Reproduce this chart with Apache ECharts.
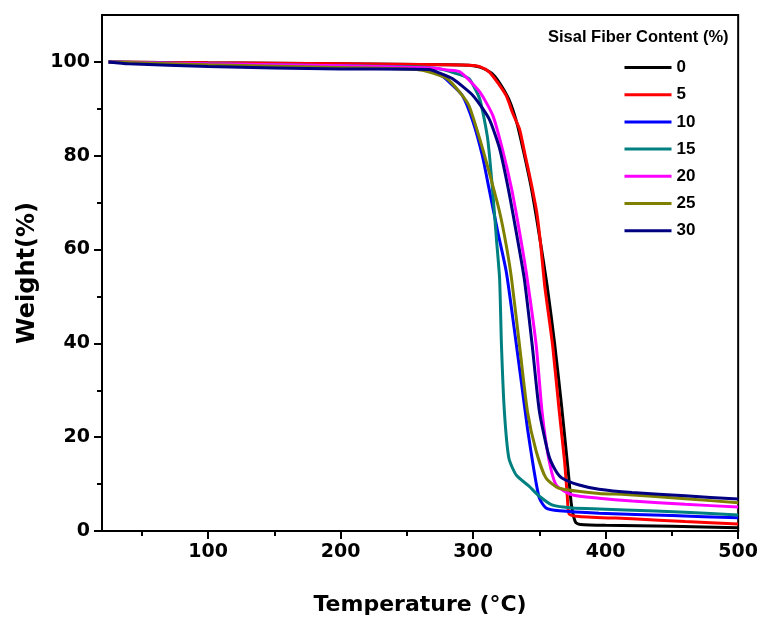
<!DOCTYPE html>
<html>
<head>
<meta charset="utf-8">
<script src="https://cdn.jsdelivr.net/npm/echarts@6/dist/echarts.min.js"></script>
<style>
  html, body { margin: 0; padding: 0; background: #fff; }
  #root { width: 761px; height: 621px; }
</style>
</head>
<body>
<div id="root"></div>
<script>
// TGA curves, [temperature °C, weight %]
const fiberContent = ['0', '5', '10', '15', '20', '25', '30'];
const lineColors = ['#000000', '#ff0000', '#0000ff', '#008080', '#ff00ff', '#808000', '#000080'];

const tga0 = [[25,100],[100,99.8],[200,99.6],[280,99.4],[297,99.3],[305,98.9],[314,97.6],[320,95.5],[327,92],[333,87],[338,81],[344,73],[350,63],[356,52],[361.5,40],[367,26],[372,12],[374,6],[375.5,3.5],[377.5,1.8],[381,1.4],[400,1.2],[450,1.0],[500,0.7]];
const tga5 = [[25,100],[100,99.8],[200,99.6],[280,99.4],[297,99.3],[305,99],[312,97.9],[318,95.8],[325,92.8],[330,89],[335,85.7],[339,80.5],[342,76.6],[345,72.5],[348,68],[351,61],[354,52.3],[357,46],[360,39.6],[365,25.5],[369,14.9],[371,7.7],[372.5,3.6],[380,3.1],[420,2.6],[460,2.0],[500,1.5]];
const tga10 = [[25,100],[50,99.8],[100,99.5],[150,99.3],[200,99.1],[250,98.8],[265,98.2],[275,97.2],[282,95.7],[292,92.8],[300,87.2],[307,80],[312,73],[318.6,63.8],[325,55.3],[331,43.2],[336,32.6],[341,21.9],[346,12.8],[350,7],[355,4.9],[365,4.3],[395,3.8],[450,3.3],[500,2.8]];
const tga15 = [[25,100],[100,99.6],[200,99.2],[260,98.9],[275,98.5],[290,97.3],[297,96.4],[305,92.1],[311,83.6],[314.6,73],[317.6,62.3],[320,53.8],[321.4,39.6],[323.6,25.5],[327,15.5],[332.6,11.9],[342,9.6],[350,7.4],[360,5.5],[375,4.9],[395,4.7],[415,4.5],[460,4.0],[500,3.4]];
const tga20 = [[25,100],[100,99.6],[200,99.2],[270,98.7],[280,98.3],[290,97.9],[305,93.6],[315,88.5],[322,81.5],[329,73],[335,63.8],[340,55.3],[347.6,39.6],[352,25.5],[357,15.5],[362.7,9.8],[374.7,7.7],[395,7],[420,6.4],[460,5.7],[500,5.1]];
const tga25 = [[25,100],[100,99.4],[200,98.8],[260,98.3],[280,96.5],[290,93.5],[297,90.6],[305,83.6],[312,76.6],[320,68],[325,60.9],[329,53.8],[335,39.6],[341,25.5],[347.6,17],[355,11.3],[365,9.1],[395,8.0],[415,7.8],[460,6.9],[500,6.0]];
const tga30 = [[25,100],[40,99.6],[100,99],[200,98.5],[267,98.4],[275,97.6],[284.6,96.4],[300,92.8],[312,87.9],[320,81.5],[327,72.3],[333,63],[338.6,53.8],[344.6,39.6],[350,25.5],[357,16.2],[362,13],[367,11.3],[380,9.8],[395,8.9],[420,8.2],[460,7.5],[500,6.8]];
const curves = [tga0, tga5, tga10, tga15, tga20, tga25, tga30];

const xMajorTicks = [100, 200, 300, 400, 500];
const xMinorTicks = [50, 150, 250, 350, 450];
const yMajorTicks = [0, 20, 40, 60, 80, 100];
const yMinorTicks = [10, 30, 50, 70, 90];

const tickFont = { fontFamily: 'DejaVu Sans', fontWeight: 'bold', fontSize: 19, color: '#000' };

const chart = echarts.init(document.getElementById('root'));

const series = curves.map((pts, i) => ({
  name: fiberContent[i],
  type: 'line',
  data: pts,
  smooth: 0.2,
  symbol: 'none',
  lineStyle: { width: 3, color: lineColors[i] },
  itemStyle: { color: lineColors[i] },
  z: 2 + i
}));

chart.setOption({
  animation: false,
  title: {
    text: 'Sisal Fiber Content (%)',
    left: 548, top: 29, padding: 0,
    textStyle: { fontFamily: 'Liberation Sans', fontWeight: 'bold', fontSize: 16.5, color: '#000' }
  },
  legend: {
    orient: 'vertical',
    left: 618, top: 54,
    itemWidth: 47, itemHeight: 14, itemGap: 10.2,
    data: fiberContent,
    itemStyle: { opacity: 0 },
    lineStyle: { width: 3 },
    textStyle: { fontFamily: 'Liberation Sans', fontWeight: 'bold', fontSize: 17, color: '#000' }
  },
  grid: {
    left: 102, right: 21, top: 15, bottom: 88,
    show: true, borderColor: '#000', borderWidth: 2, backgroundColor: 'transparent'
  },
  xAxis: [{
    type: 'value', min: 20, max: 500,
    name: 'Temperature (°C)', nameLocation: 'middle', nameGap: 63,
    nameTextStyle: { fontFamily: 'DejaVu Sans', fontWeight: 'bold', fontSize: 22, color: '#000' },
    axisLine: { lineStyle: { color: '#000', width: 2 } },
    axisTick: { customValues: xMajorTicks, length: 8, lineStyle: { color: '#000', width: 2 } },
    axisLabel: Object.assign({ customValues: xMajorTicks, margin: 12 }, tickFont),
    splitLine: { show: false }
  }, {
    type: 'value', min: 20, max: 500, position: 'bottom',
    axisLine: { show: false },
    axisTick: { customValues: xMinorTicks, length: 5, lineStyle: { color: '#000', width: 2 } },
    axisLabel: { show: false },
    splitLine: { show: false }
  }],
  yAxis: [{
    type: 'value', min: 0, max: 110,
    name: 'Weight(%)', nameLocation: 'middle', nameGap: 62,
    nameTextStyle: { fontFamily: 'DejaVu Sans', fontWeight: 'bold', fontSize: 24, color: '#000' },
    axisLine: { lineStyle: { color: '#000', width: 2 } },
    axisTick: { customValues: yMajorTicks, length: 8, lineStyle: { color: '#000', width: 2 } },
    axisLabel: Object.assign({ customValues: yMajorTicks, margin: 12 }, tickFont),
    splitLine: { show: false }
  }, {
    type: 'value', min: 0, max: 110, position: 'left',
    axisLine: { show: false },
    axisTick: { customValues: yMinorTicks, length: 5, lineStyle: { color: '#000', width: 2 } },
    axisLabel: { show: false },
    splitLine: { show: false }
  }],
  series
});
</script>
</body>
</html>
